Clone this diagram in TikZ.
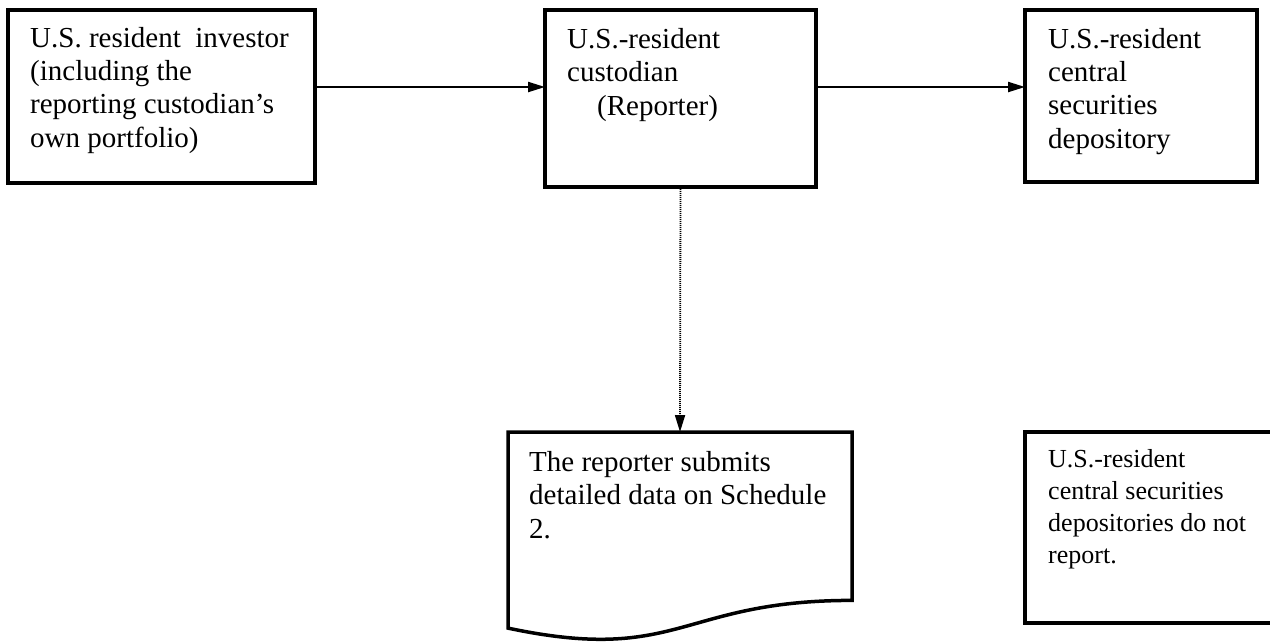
\documentclass[tikz,border=0pt]{standalone}
\usepackage{fontspec}
\setmainfont{Liberation Serif}
\usetikzlibrary{arrows.meta}
\begin{document}
\begin{tikzpicture}[x=1pt,y=-1pt,
  boxshape/.style={draw=black,line width=3.5pt,fill=none,inner sep=0pt,outer sep=0pt},
  txt/.style={anchor=base west,inner sep=0pt,align=left,font=\fontsize{29}{33.3}\selectfont},
  smalltxt/.style={anchor=base west,inner sep=0pt,align=left,font=\fontsize{26}{32}\selectfont},
  flow/.style={line width=2.2pt,-{Triangle[length=17pt,width=10pt]}},
  dotflow/.style={line width=1.8pt,dash pattern=on 1.2pt off 0.8pt,-{Triangle[length=17pt,width=10pt]}}
]
\useasboundingbox (0,0) rectangle (1270,641);
% boxes
\node[boxshape,minimum width=307pt,minimum height=173pt] (inv) at (161.5,96.5) {};
\node[boxshape,minimum width=271pt,minimum height=177pt] (cust) at (680.5,98.5) {};
\node[boxshape,minimum width=232pt,minimum height=172pt] (csd) at (1141,96) {};
\node[boxshape,minimum width=250pt,minimum height=191pt] (note) at (1150,527.5) {};
% document shape
\draw[line width=3.5pt,line join=miter] (508,432) -- (852,432) -- (852,600.4)
   .. controls (680,600.4) and (680,664.5) .. (508,628.1) -- cycle;
\coordinate (doctop) at (680,432);
% texts (base anchor = baseline of the last line)
\node[txt] (invt) at (30,147) {U.S. resident\ \ investor\\(including the\\reporting custodian’s\\own portfolio)};
\node[txt] (custt) at (567,115) {U.S.-resident\\custodian\\\hspace{30pt}(Reporter)};
\node[txt] (csdt) at (1048,148) {U.S.-resident\\central\\securities\\depository};
\node[txt] (doct) at (529,538) {The reporter submits\\detailed data on Schedule\\2.};
\node[smalltxt] (notet) at (1048,563) {U.S.-resident\\central securities\\depositories do not\\report.};
% connectors
\draw[flow] (inv.east |- 0,87) -- (cust.west |- 0,87);
\draw[flow] (cust.east |- 0,87) -- (csd.west |- 0,87);
\draw[dotflow] (cust.south) -- (doctop);
\end{tikzpicture}
\end{document}
